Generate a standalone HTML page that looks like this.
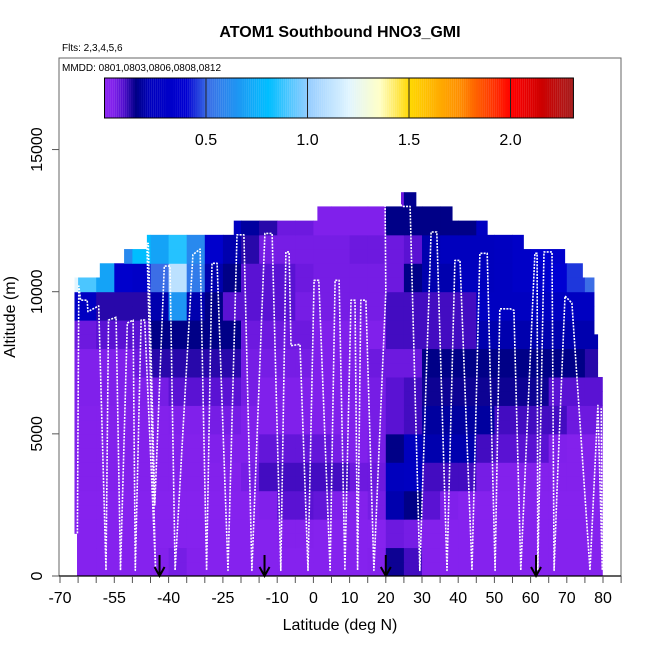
<!DOCTYPE html>
<html><head><meta charset="utf-8"><style>
body{margin:0;background:#fff}
svg{font-family:"Liberation Sans",sans-serif}
</style></head><body>
<svg id="chart" width="650" height="650" viewBox="0 0 650 650">
<text x="340" y="37" text-anchor="middle" font-size="16" font-weight="bold">ATOM1 Southbound HNO3_GMI</text>
<text x="62" y="51" font-size="10">Flts: 2,3,4,5,6</text>
<g id="heat"></g>
<g id="track"></g>
<g id="arrows"></g>
<rect x="59" y="58" width="562" height="518" fill="none" stroke="#666" stroke-width="1"/>
<text x="62" y="71" font-size="10">MMDD: 0801,0803,0806,0808,0812</text>
<g id="cbar"></g>
<g id="axes"></g>
<text x="340" y="630" text-anchor="middle" font-size="16">Latitude (deg N)</text>
<text transform="translate(15,317) rotate(-90)" text-anchor="middle" font-size="16">Altitude (m)</text>
</svg>
<script>
const colLats=[-70,-65,-60,-55,-50,-45,-40,-35,-30,-25,-20,-15,-10,-5,0,5,10,15,20,25,30,35,40,45,50,55,60,65,70,75];
const rowAlts=[0,1000,2000,3000,4000,5000,6000,7000,8000,9000,10000,11000,12000,13000];
const g0=[.02,.02,.02,.02,.02,.03,.05,.03,.02,.02,.02,.02,.02,.02,.02,.02,.02,.03,.14,.1,.03,.02,.02,.02,.02,.02,.02,.02,.02,.02];
const g1=[.02,.02,.02,.02,.02,.02,.02,.02,.02,.02,.02,.02,.03,.03,.02,.02,.02,.02,.06,.05,.03,.02,.02,.02,.02,.02,.02,.02,.02,.02];
const g2=[.02,.02,.02,.02,.02,.02,.02,.02,.02,.02,.02,.04,.08,.08,.07,.04,.03,.05,.2,.15,.08,.04,.02,.02,.02,.02,.02,.02,.02,.02];
const g3=[.03,.03,.03,.03,.03,.03,.03,.03,.03,.03,.05,.1,.1,.1,.1,.1,.06,.06,.22,.25,.1,.1,.1,.05,.03,.03,.03,.03,.03,.03];
const g4=[.03,.03,.03,.03,.03,.03,.03,.03,.04,.04,.04,.07,.07,.07,.07,.05,.04,.05,.15,.22,.2,.2,.2,.1,.08,.08,.08,.04,.03,.03];
const g5=[.03,.03,.03,.03,.03,.03,.04,.04,.05,.05,.04,.04,.04,.04,.04,.04,.04,.05,.08,.1,.18,.18,.18,.18,.1,.1,.1,.1,.06,.06];
const g6=[.04,.04,.04,.04,.04,.05,.08,.08,.08,.08,.05,.04,.04,.04,.04,.04,.04,.05,.08,.1,.14,.14,.14,.14,.14,.14,.14,.08,.08,.08];
const g7=[.04,.04,.04,.04,.06,.12,.12,.12,.12,.12,.05,.05,.05,.05,.04,.04,.04,.06,.06,.06,.15,.15,.15,.15,.15,.15,.15,.15,.15,.12];
const g8=[.06,.06,.08,.08,.08,.15,.15,.15,.15,.15,.06,.06,.06,.06,.04,.04,.04,.04,.1,.1,.1,.1,.1,.2,.2,.2,.2,.2,.2,.2];
const g9=[.3,.25,.12,.12,.12,.2,.65,.2,.15,.08,.08,.08,.08,.05,.05,.05,.05,.05,.1,.1,.1,.1,.1,.25,.25,.25,.25,.25,.25,.25];
const g10=[1.2,.9,.7,.35,.3,.5,1.1,.55,.2,.15,.08,.08,.08,.06,.05,.05,.05,.05,.06,.15,.2,.2,.22,.22,.25,.3,.35,.4,.45,.5];
const g11=[.5,.5,.5,.6,.8,.7,.85,.6,.35,.2,.12,.05,.05,.05,.05,.05,.06,.06,.06,.08,.2,.22,.22,.22,.25,.3,.4,.35,.35,.35];
const g12=[.5,.5,.5,.5,.5,.5,.5,.6,.45,.25,.18,.12,.06,.06,.04,.04,.04,.04,.15,.15,.15,.15,.15,.25,.25,.25,.25,.25,.25,.25];
const g13=[.15,.15,.15,.15,.15,.15,.15,.15,.15,.15,.15,.15,.15,.15,.15,.06,.06,.06,.06,.16,.16,.16,.16,.16,.16,.16,.16,.16,.16,.16];
const grid=[g0,g1,g2,g3,g4,g5,g6,g7,g8,g9,g10,g11,g12,g13];
const bandBase=[0,1500,7000,8500,10000,10500,11000,11500,12000,12500,13000];
const bandMin=[-65.3,-66,-66,-66,-66,-59,-52.3,-46,-22,1.1,24.2];
const bandMax=[79.8,79.8,78.5,77.5,77.5,74.3,69.4,58,48,38.3,28.3];
const bandTop=[1500,7000,8500,10000,10500,11000,11500,12000,12500,13000,13500];
const trackLat=[-65.2,-64.8,-64.3,-62.5,-62.3,-59.3,-57.3,-56.6,-54.5,-53.3,-51.4,-49.8,-49.2,-47.6,-46.6,-43.6,-46.0,-45.6,-43.8,-41.2,-39.6,-38.2,-33.3,-31.3,-29.5,-28.0,-26.6,-23.6,-21.1,-19.2,-17.0,-13.4,-11.4,-9.0,-7.6,-6.7,-6.2,-3.7,-1.5,0.2,1.5,4.6,6.0,7.1,8.7,10.4,11.5,12.2,13.1,14.5,16.7,20.0,19.8,23.9,24.5,26.7,29.4,32.5,34.1,36.9,39.1,40.5,43.8,46.0,48.0,50.2,51.5,54.3,55.4,57.3,61.2,61.8,62.0,63.7,65.9,66.5,67.3,69.5,71.4,76.4,78.6,79.8,79.5];
const trackAlt=[1500,10200,9700,9700,9300,9500,200,9000,9100,200,8900,9000,200,9000,9000,200,11700,11700,2500,10900,10900,200,11300,11500,200,11000,11000,200,12000,12000,200,12050,12050,200,11400,11400,8100,8150,200,10400,10400,200,10400,10400,200,9700,9700,200,9700,9700,200,10000,13100,13100,13000,13000,200,12100,12100,200,11100,11100,200,11350,11350,200,9400,9400,9350,200,11350,11350,200,11400,11400,200,3000,9850,9600,200,6000,200,5900];
const arrowLats=[-42.5,-13.5,20,61.5];
const xTicks=[-70,-65,-60,-55,-50,-45,-40,-35,-30,-25,-20,-15,-10,-5,0,5,10,15,20,25,30,35,40,45,50,55,60,65,70,75,80,85];
const xLabels=[-70,-55,-40,-25,-10,0,10,20,30,40,50,60,70,80];
const yLabels=[0,5000,10000,15000];
const cbTicks=[0.5,1.0,1.5,2.0];

const NS="http://www.w3.org/2000/svg";
const X=l=>60+(l+70)*3.62;
const Y=a=>576-a*0.02843;
const CB=v=>104.5+v*203;
function mk(tag,parent,attrs){const e=document.createElementNS(NS,tag);for(const k in attrs)e.setAttribute(k,attrs[k]);parent.appendChild(e);return e;}
const stops=[[0,[138,36,240]],[0.04,[128,32,235]],[0.09,[80,15,205]],[0.15,[0,0,135]],[0.22,[0,0,190]],[0.4,[0,0,210]],[0.5,[60,110,230]],[0.8,[0,190,255]],[1.0,[150,205,255]],[1.2,[225,245,255]],[1.35,[255,255,200]],[1.5,[255,215,0]],[1.75,[255,140,0]],[2.0,[255,0,0]],[2.15,[205,0,0]],[2.31,[165,30,30]]];
function col(v){for(let i=1;i<stops.length;i++){if(v<=stops[i][0]){const a=stops[i-1],b=stops[i],t=(v-a[0])/(b[0]-a[0]);return 'rgb('+a[1].map((c,j)=>Math.round(c+(b[1][j]-c)*t)).join(',')+')';}}return 'rgb(165,30,30)';}

const heat=document.getElementById('heat');
for(let b=0;b<bandBase.length;b++){
  for(let a=bandBase[b];a<bandTop[b];a+=500){
    const r=Math.min(grid.length-1,Math.floor(a/1000));
    for(let c=0;c<colLats.length;c++){
      const l0=Math.max(colLats[c],bandMin[b]),l1=Math.min(colLats[c]+5,bandMax[b]);
      if(l1<=l0)continue;
      const e=mk('rect',heat,{x:X(l0),y:Y(a+500),width:X(l1)-X(l0)+0.5,height:Y(a)-Y(a+500)+0.5,fill:col(grid[r][c])});
      
      
    }
  }
}
const tr=document.getElementById('track');
let d='';trackLat.forEach((l,i)=>{d+=(i?'L':'M')+X(l).toFixed(1)+' '+Y(trackAlt[i]).toFixed(1);});
const tp=mk('path',tr,{d:d,fill:'none',stroke:'#fff','stroke-width':1.6,'stroke-dasharray':'2 1.2','stroke-linejoin':'round'});


const ar=document.getElementById('arrows');
arrowLats.forEach(l=>{
  const g=mk('g',ar,{});
  
  
  mk('line',g,{x1:X(l),y1:555,x2:X(l),y2:575,stroke:'#000','stroke-width':2});
  mk('path',g,{d:`M${X(l)-5} ${567}L${X(l)} ${576}L${X(l)+5} ${567}`,fill:'none',stroke:'#000','stroke-width':2});
});
const cb=document.getElementById('cbar');
for(let i=0;i<231;i++){const v=i*0.01;mk('rect',cb,{x:CB(v),y:78,width:Math.min(2.1,CB(2.31)-CB(v)),height:40,fill:col(v)});}
mk('rect',cb,{x:CB(0),y:78,width:CB(2.31)-CB(0),height:40,fill:'none',stroke:'#000','stroke-width':1});
cbTicks.forEach(v=>{
  mk('line',cb,{x1:CB(v),y1:78,x2:CB(v),y2:118,stroke:'#222','stroke-width':1});
  const t=mk('text',cb,{x:CB(v),y:145,'text-anchor':'middle','font-size':16});t.textContent=v.toFixed(1);
  
  
});
const ax=document.getElementById('axes');
mk('line',ax,{x1:59,y1:576,x2:621,y2:576,stroke:'#000','stroke-width':1.2});
xTicks.forEach(v=>mk('line',ax,{x1:X(v),y1:576,x2:X(v),y2:583,stroke:'#555','stroke-width':1}));
xLabels.forEach(v=>{const t=mk('text',ax,{x:X(v),y:603,'text-anchor':'middle','font-size':16});t.textContent=v;
  
  });
yLabels.forEach(v=>{mk('line',ax,{x1:52,y1:Y(v),x2:59,y2:Y(v),stroke:'#555','stroke-width':1});
  const t=mk('text',ax,{transform:`translate(42,${Y(v)}) rotate(-90)`,'text-anchor':'middle','font-size':16});t.textContent=v;
  
  });
</script>
</body></html>
